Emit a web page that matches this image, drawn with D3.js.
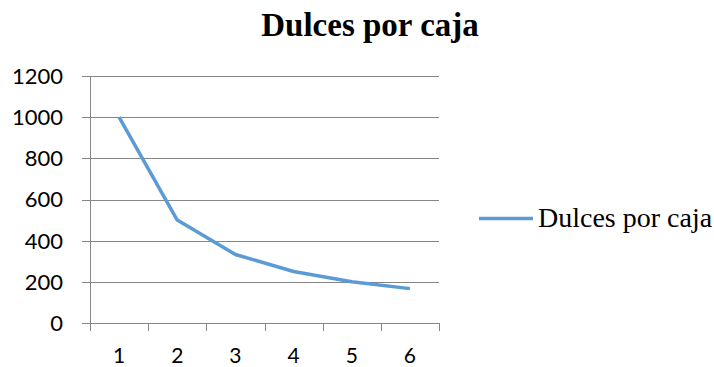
<!DOCTYPE html>
<html>
<head>
<meta charset="utf-8">
<script src="https://cdn.jsdelivr.net/npm/d3@7"></script>
<style>
  html, body { margin: 0; padding: 0; background: #ffffff; }
  svg { display: block; }
</style>
</head>
<body>
<svg id="chart" width="714" height="367"></svg>
<script>
// Candies per box for boxes 1..6
const categories = ["1", "2", "3", "4", "5", "6"];
const dulcesPorCaja = [1000, 500, 333, 250, 200, 167];
const yTicks = [0, 200, 400, 600, 800, 1000, 1200];
const seriesName = "Dulces por caja";
const chartTitle = "Dulces por caja";

const svg = d3.select("#chart");
const plot = { left: 90, right: 439, top: 76, bottom: 323 };
const gridColor = "#868686";
const lineColor = "#5b9bd5";

const x = d3.scaleBand().domain(categories).range([plot.left, plot.right]).padding(0);
const y = d3.scaleLinear().domain([0, 1200]).range([plot.bottom, plot.top]);

// Horizontal gridlines with short ticks to the left of the axis
svg.append("g").selectAll("line").data(yTicks).join("line")
  .attr("x1", plot.left - 8).attr("x2", plot.right)
  .attr("y1", d => Math.round(y(d)) + 0.5).attr("y2", d => Math.round(y(d)) + 0.5)
  .attr("stroke", gridColor).attr("stroke-width", 1);

// Vertical axis line
svg.append("line")
  .attr("x1", plot.left + 0.5).attr("x2", plot.left + 0.5)
  .attr("y1", y(1200)).attr("y2", plot.bottom + 8)
  .attr("stroke", gridColor).attr("stroke-width", 1);

// Category boundary ticks below the horizontal axis
const boundaries = categories.map(c => x(c)).concat([x.range()[1]]);
svg.append("g").selectAll("line").data(boundaries).join("line")
  .attr("x1", d => Math.round(d) + 0.5).attr("x2", d => Math.round(d) + 0.5)
  .attr("y1", plot.bottom).attr("y2", plot.bottom + 8)
  .attr("stroke", gridColor).attr("stroke-width", 1);

// Y tick labels
svg.append("g").selectAll("text").data(yTicks).join("text")
  .attr("x", 63).attr("y", d => y(d))
  .attr("dy", "0.36em")
  .attr("text-anchor", "end")
  .attr("font-family", "Lato, 'Open Sans', sans-serif")
  .attr("font-size", 22)
  .attr("fill", "#000")
  .text(d => d);

// X tick labels
svg.append("g").selectAll("text").data(categories).join("text")
  .attr("x", d => x(d) + x.bandwidth() / 2).attr("y", 355)
  .attr("dy", "0.36em")
  .attr("text-anchor", "middle")
  .attr("font-family", "Lato, 'Open Sans', sans-serif")
  .attr("font-size", 21)
  .attr("fill", "#000")
  .text(d => d);

// Series line
const line = d3.line()
  .x((d, i) => x(categories[i]) + x.bandwidth() / 2)
  .y(d => y(d));
svg.append("path")
  .datum(dulcesPorCaja)
  .attr("d", line)
  .attr("fill", "none")
  .attr("stroke", lineColor)
  .attr("stroke-width", 3.5)
  .attr("stroke-linejoin", "round");

// Title
svg.append("text")
  .attr("x", 370).attr("y", 36)
  .attr("text-anchor", "middle")
  .attr("font-family", "'Liberation Serif', 'Times New Roman', serif")
  .attr("font-weight", "bold")
  .attr("font-size", 33)
  .attr("fill", "#000")
  .text(chartTitle);

// Legend
const legend = svg.append("g");
legend.append("line")
  .attr("x1", 479).attr("x2", 533)
  .attr("y1", 218.5).attr("y2", 218.5)
  .attr("stroke", lineColor).attr("stroke-width", 3.5);
legend.append("text")
  .attr("x", 538).attr("y", 227)
  .attr("font-family", "'Liberation Serif', 'Times New Roman', serif")
  .attr("font-size", 28)
  .attr("fill", "#000")
  .text(seriesName);
</script>
</body>
</html>
